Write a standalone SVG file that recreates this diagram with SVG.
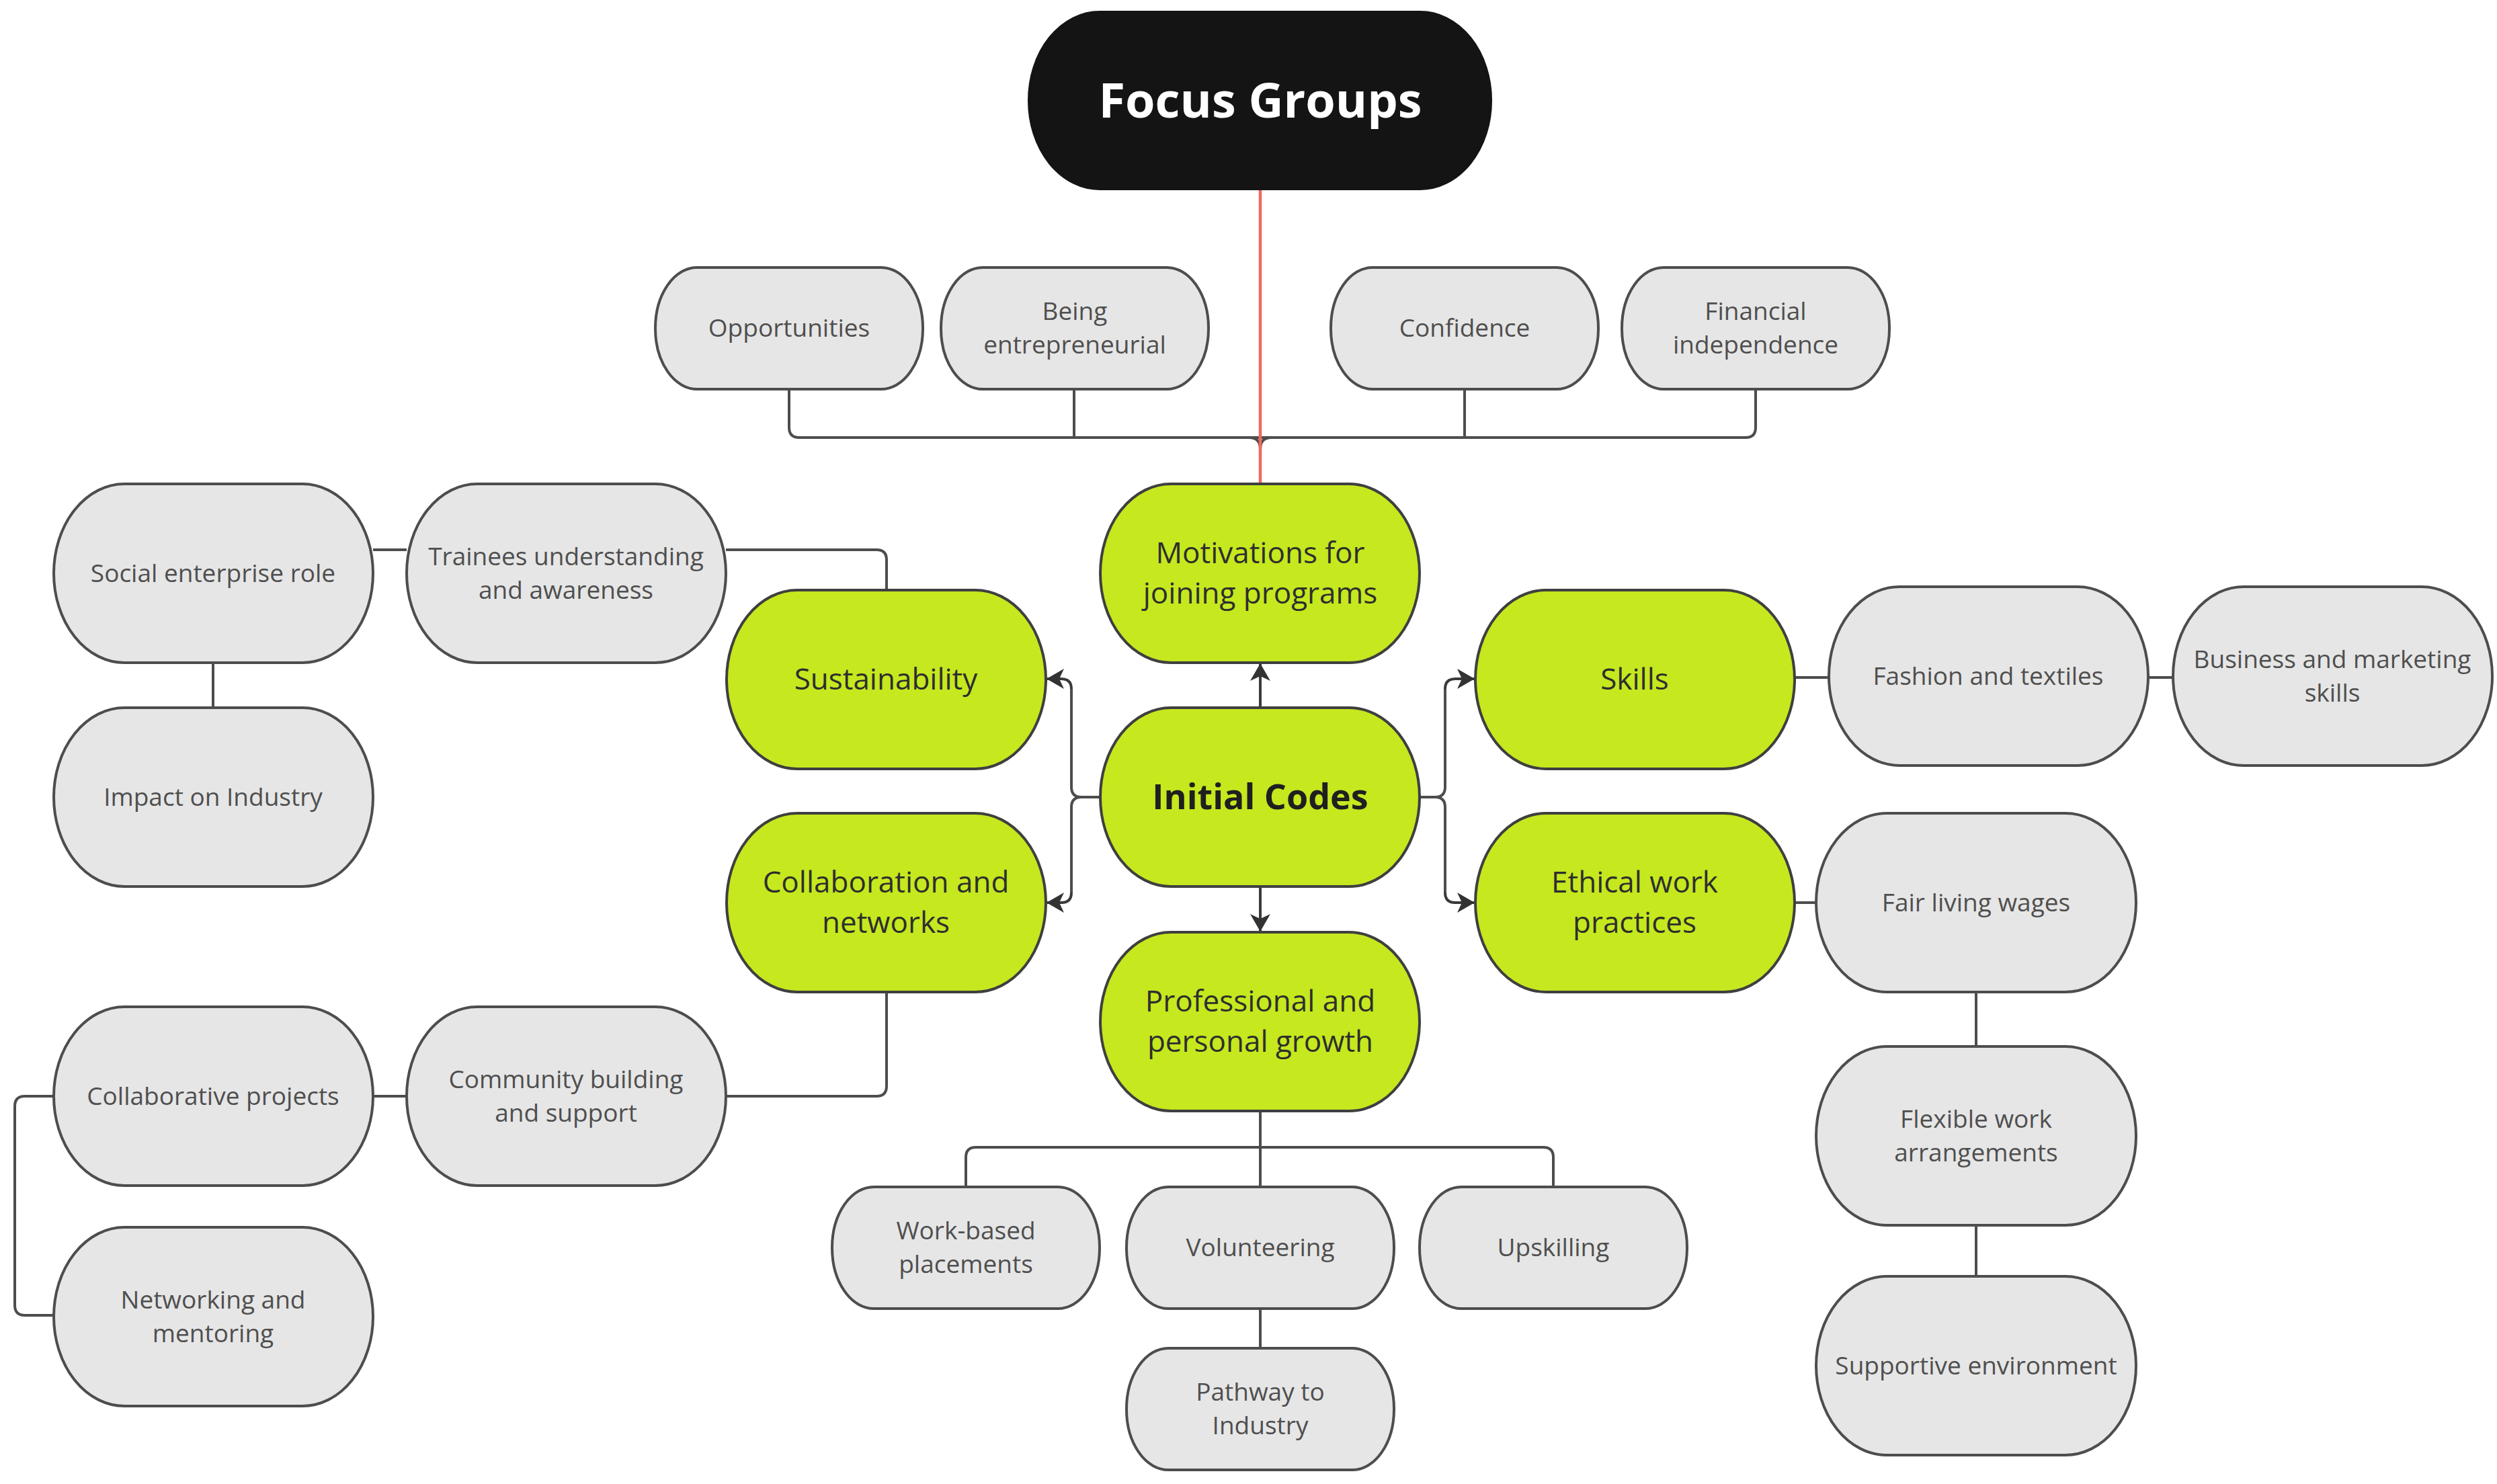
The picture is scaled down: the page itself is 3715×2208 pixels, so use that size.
<svg xmlns="http://www.w3.org/2000/svg" width="3715" height="2208" viewBox="0 0 3715 2208">
<style>
.g rect{fill:#e6e6e6;stroke:#4d4d4d;stroke-width:4}
.k rect{fill:#c5e81f;stroke:#3f3f3f;stroke-width:4}
.b rect{fill:#141414;stroke:#141414;stroke-width:4}
.g text{font-family:"Open Sans","Noto Sans","Liberation Sans",sans-serif;font-size:37px;fill:#4f4f4f;text-anchor:middle}
.k text{font-family:"Open Sans","Noto Sans","Liberation Sans",sans-serif;font-size:44px;fill:#2e2e2e;text-anchor:middle}
.b text{font-family:"Open Sans","Noto Sans","Liberation Sans",sans-serif;font-size:72px;font-weight:bold;fill:#ffffff;text-anchor:middle}
#connectors path{fill:none;stroke:#4d4d4d;stroke-width:4}
#connectors path.red{stroke:#f2685a;stroke-width:4.5}
#connectors path.arr{stroke:#3a3a3a;marker-end:url(#ah)}
</style>
<defs>
<marker id="ah" viewBox="0 0 26 30" refX="25" refY="15" markerWidth="26" markerHeight="30" markerUnits="userSpaceOnUse" orient="auto">
<path d="M0,0 L26,15 L0,30 L7,15 Z" fill="#333333"/>
</marker>
</defs>
<rect width="3715" height="2208" fill="#ffffff"/>
<g id="connectors">
<path d="M1174,579 V636 Q1174,651 1189,651 H2597 Q2612,651 2612,636 V579"/>
<path d="M1598,579 V651"/>
<path d="M2179,579 V651"/>
<path d="M1858,651 Q1875,651 1875,668 V720 M1892,651 Q1875,651 1875,668"/>
<path class="red" d="M1875,281 V720"/>
<path class="arr" d="M1875,1053 V988"/>
<path class="arr" d="M1875,1319 V1385"/>
<path d="M1637,1186 H1609 Q1594,1186 1594,1171 V1025"/>
<path class="arr" d="M1594,1025 Q1594,1010 1579,1010 H1558"/>
<path d="M1609,1186 Q1594,1186 1594,1201 V1328"/>
<path class="arr" d="M1594,1328 Q1594,1343 1579,1343 H1558"/>
<path d="M2112,1186 H2135 Q2150,1186 2150,1171 V1025"/>
<path class="arr" d="M2150,1025 Q2150,1010 2165,1010 H2193"/>
<path d="M2135,1186 Q2150,1186 2150,1201 V1328"/>
<path class="arr" d="M2150,1328 Q2150,1343 2165,1343 H2193"/>
<path d="M1319,878 V833 Q1319,818 1304,818 H1080"/>
<path d="M555,818 H605"/>
<path d="M317,986 V1053"/>
<path d="M1319,1476 V1616 Q1319,1631 1304,1631 H1080"/>
<path d="M555,1631 H605"/>
<path d="M80,1631 H37 Q22,1631 22,1646 V1942 Q22,1957 37,1957 H80"/>
<path d="M1875,1653 V1766"/>
<path d="M1437,1766 V1722 Q1437,1707 1452,1707 H2296 Q2311,1707 2311,1722 V1766"/>
<path d="M1875,1947 V2006"/>
<path d="M2670,1008 H2721"/>
<path d="M3196,1008 H3233"/>
<path d="M2670,1343 H2702"/>
<path d="M2940,1476 V1557"/>
<path d="M2940,1823 V1899"/>
</g>
<g id="focus-groups" class="b"><rect x="1531" y="18" width="687" height="263" rx="105" ry="131"/><text x="1875" y="175">Focus Groups</text></g>
<g id="motivations" class="k"><rect x="1637" y="720" width="475" height="266" rx="105" ry="133"/><text x="1875" y="838">Motivations for</text><text x="1875" y="898">joining programs</text></g>
<g id="initial-codes" class="k"><rect x="1637" y="1053" width="475" height="266" rx="105" ry="133"/><text x="1875" y="1204" style="font-size:52px;font-weight:bold;fill:#1f1f1f">Initial Codes</text></g>
<g id="professional" class="k"><rect x="1637" y="1387" width="475" height="266" rx="105" ry="133"/><text x="1875" y="1505">Professional and</text><text x="1875" y="1565">personal growth</text></g>
<g id="sustainability" class="k"><rect x="1081" y="878" width="475" height="266" rx="105" ry="133"/><text x="1318" y="1026">Sustainability</text></g>
<g id="collaboration" class="k"><rect x="1081" y="1210" width="475" height="266" rx="105" ry="133"/><text x="1318" y="1328">Collaboration and</text><text x="1318" y="1388">networks</text></g>
<g id="skills" class="k"><rect x="2195" y="878" width="475" height="266" rx="105" ry="133"/><text x="2432" y="1026">Skills</text></g>
<g id="ethical" class="k"><rect x="2195" y="1210" width="475" height="266" rx="105" ry="133"/><text x="2432" y="1328">Ethical work</text><text x="2432" y="1388">practices</text></g>
<g id="social-enterprise" class="g"><rect x="80" y="720" width="475" height="266" rx="105" ry="133"/><text x="317" y="866">Social enterprise role</text></g>
<g id="trainees" class="g"><rect x="605" y="720" width="475" height="266" rx="105" ry="133"/><text x="842" y="841">Trainees understanding</text><text x="842" y="891">and awareness</text></g>
<g id="impact" class="g"><rect x="80" y="1053" width="475" height="266" rx="105" ry="133"/><text x="317" y="1199">Impact on Industry</text></g>
<g id="collaborative-projects" class="g"><rect x="80" y="1498" width="475" height="266" rx="105" ry="133"/><text x="317" y="1644">Collaborative projects</text></g>
<g id="community" class="g"><rect x="605" y="1498" width="475" height="266" rx="105" ry="133"/><text x="842" y="1619">Community building</text><text x="842" y="1669">and support</text></g>
<g id="networking" class="g"><rect x="80" y="1826" width="475" height="266" rx="105" ry="133"/><text x="317" y="1947">Networking and</text><text x="317" y="1997">mentoring</text></g>
<g id="fashion" class="g"><rect x="2721" y="873" width="475" height="266" rx="105" ry="133"/><text x="2958" y="1019">Fashion and textiles</text></g>
<g id="business" class="g"><rect x="3233" y="873" width="475" height="266" rx="105" ry="133"/><text x="3470" y="994">Business and marketing</text><text x="3470" y="1044">skills</text></g>
<g id="fair-wages" class="g"><rect x="2702" y="1210" width="476" height="266" rx="105" ry="133"/><text x="2940" y="1356">Fair living wages</text></g>
<g id="flexible" class="g"><rect x="2702" y="1557" width="476" height="266" rx="105" ry="133"/><text x="2940" y="1678">Flexible work</text><text x="2940" y="1728">arrangements</text></g>
<g id="supportive" class="g"><rect x="2702" y="1899" width="476" height="266" rx="105" ry="133"/><text x="2940" y="2045">Supportive environment</text></g>
<g id="opportunities" class="g"><rect x="975" y="398" width="398" height="181" rx="62" ry="90"/><text x="1174" y="501">Opportunities</text></g>
<g id="entrepreneurial" class="g"><rect x="1400" y="398" width="398" height="181" rx="62" ry="90"/><text x="1599" y="476">Being</text><text x="1599" y="526">entrepreneurial</text></g>
<g id="confidence" class="g"><rect x="1980" y="398" width="398" height="181" rx="62" ry="90"/><text x="2179" y="501">Confidence</text></g>
<g id="financial" class="g"><rect x="2413" y="398" width="398" height="181" rx="62" ry="90"/><text x="2612" y="476">Financial</text><text x="2612" y="526">independence</text></g>
<g id="work-based" class="g"><rect x="1238" y="1766" width="398" height="181" rx="62" ry="90"/><text x="1437" y="1844">Work-based</text><text x="1437" y="1894">placements</text></g>
<g id="volunteering" class="g"><rect x="1676" y="1766" width="398" height="181" rx="62" ry="90"/><text x="1875" y="1869">Volunteering</text></g>
<g id="upskilling" class="g"><rect x="2112" y="1766" width="398" height="181" rx="62" ry="90"/><text x="2311" y="1869">Upskilling</text></g>
<g id="pathway" class="g"><rect x="1676" y="2006" width="398" height="181" rx="62" ry="90"/><text x="1875" y="2084">Pathway to</text><text x="1875" y="2134">Industry</text></g>
</svg>
